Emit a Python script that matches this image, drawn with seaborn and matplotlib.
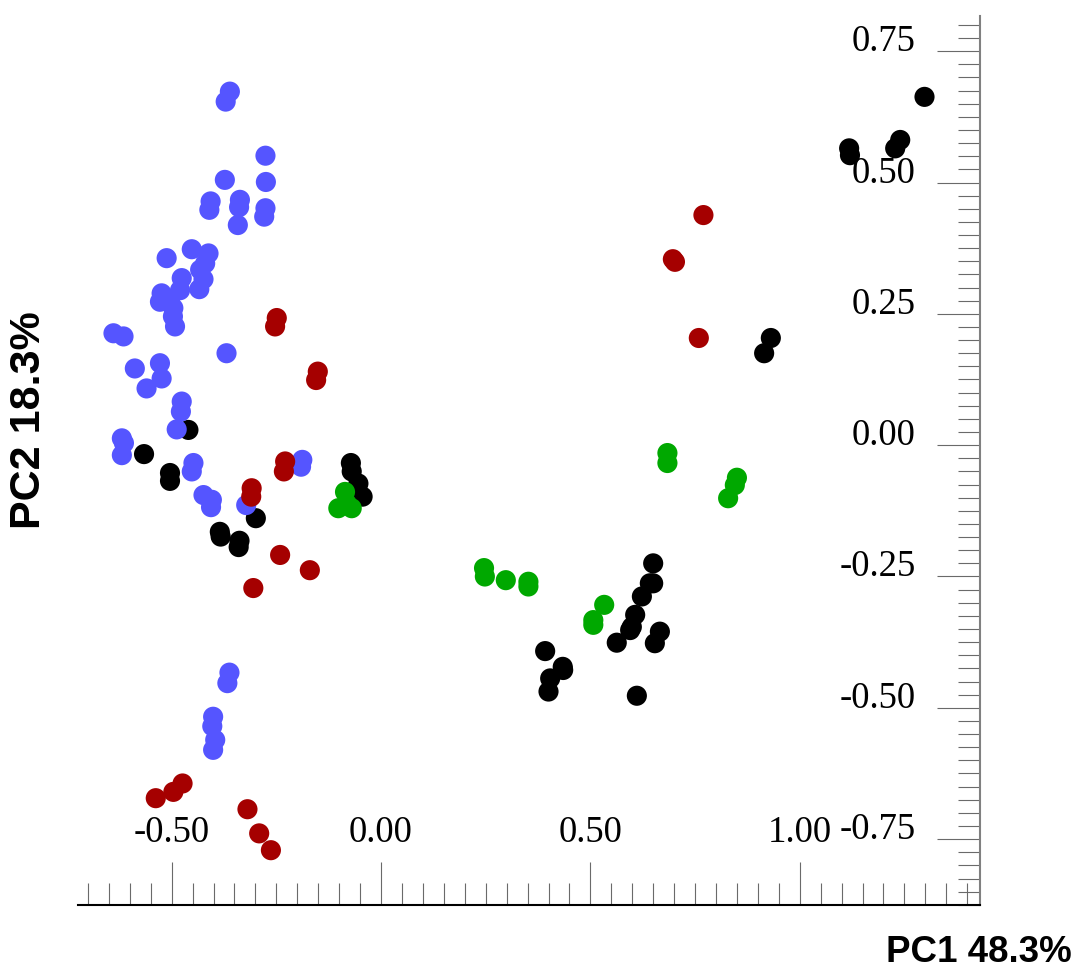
import matplotlib
matplotlib.use("Agg")
import matplotlib.pyplot as plt
from matplotlib.ticker import MultipleLocator
import pandas as pd
import seaborn as sns

# PCA scores, one pair of lists per group
blue_pc1 = [-0.361, -0.371, -0.276, -0.275, -0.373, -0.407, -0.410, -0.337, -0.339, -0.342,
            -0.276, -0.279, -0.512, -0.452, -0.412, -0.420, -0.432, -0.424, -0.434, -0.476,
            -0.480, -0.524, -0.528, -0.504, -0.496, -0.497, -0.492, -0.639, -0.615, -0.369,
            -0.588, -0.528, -0.524, -0.560, -0.476, -0.478, -0.488, -0.619, -0.614, -0.619,
            -0.448, -0.452, -0.424, -0.404, -0.406, -0.322, -0.188, -0.191, -0.362, -0.367,
            -0.401, -0.403, -0.396, -0.401]
blue_pc2 = [0.673, 0.654, 0.551, 0.501, 0.505, 0.464, 0.448, 0.467, 0.453, 0.419,
            0.451, 0.435, 0.356, 0.373, 0.365, 0.346, 0.334, 0.316, 0.297, 0.318,
            0.295, 0.289, 0.273, 0.276, 0.261, 0.245, 0.226, 0.213, 0.207, 0.175,
            0.146, 0.156, 0.127, 0.108, 0.083, 0.064, 0.030, 0.013, 0.004, -0.019,
            -0.034, -0.050, -0.095, -0.104, -0.118, -0.114, -0.028, -0.041, -0.433, -0.453,
            -0.517, -0.535, -0.561, -0.580]

red_pc1 = [-0.249, -0.253, -0.151, -0.155, -0.229, -0.232, -0.309, -0.310, -0.241, -0.170,
           -0.305, -0.474, -0.496, -0.538, -0.319, -0.291, -0.263, 0.770, 0.697, 0.702, 0.759]
red_pc2 = [0.242, 0.226, 0.140, 0.124, -0.031, -0.050, -0.082, -0.098, -0.209, -0.238,
           -0.272, -0.644, -0.660, -0.672, -0.693, -0.739, -0.771, 0.438, 0.354, 0.349, 0.204]

green_pc1 = [-0.086, -0.102, -0.070, -0.082, 0.246, 0.248, 0.298, 0.352, 0.352, 0.533,
             0.507, 0.507, 0.684, 0.684, 0.850, 0.845, 0.829]
green_pc2 = [-0.089, -0.120, -0.120, -0.111, -0.234, -0.250, -0.257, -0.260, -0.269, -0.304,
             -0.333, -0.342, -0.015, -0.034, -0.062, -0.076, -0.101]

black_pc1 = [1.298, 1.240, 1.228, 1.118, 1.120, 0.931, 0.915, -0.460, -0.566, -0.504,
             -0.504, -0.299, -0.385, -0.383, -0.338, -0.340, -0.072, -0.070, -0.054, -0.044,
             0.650, 0.642, 0.650, 0.623, 0.607, 0.599, 0.595, 0.666, 0.654, 0.563,
             0.611, 0.392, 0.434, 0.435, 0.404, 0.400]
black_pc2 = [0.663, 0.581, 0.565, 0.565, 0.552, 0.204, 0.175, 0.029, -0.017, -0.053,
             -0.068, -0.139, -0.165, -0.174, -0.182, -0.194, -0.034, -0.050, -0.073, -0.098,
             -0.225, -0.263, -0.263, -0.288, -0.323, -0.346, -0.352, -0.355, -0.377, -0.376,
             -0.477, -0.392, -0.422, -0.428, -0.444, -0.469]

x_ticks = [-0.5, 0.0, 0.5, 1.0]
x_labels = ["-0.50", "0.00", "0.50", "1.00"]
y_ticks = [-0.75, -0.5, -0.25, 0.0, 0.25, 0.5, 0.75]
y_labels = ["-0.75", "-0.50", "-0.25", "0.00", "0.25", "0.50", "0.75"]

palette = {"black": "#000000", "blue": "#5555ff", "red": "#a50000", "green": "#00a800"}

df = pd.concat([
    pd.DataFrame({"pc1": black_pc1, "pc2": black_pc2, "group": "black"}),
    pd.DataFrame({"pc1": blue_pc1, "pc2": blue_pc2, "group": "blue"}),
    pd.DataFrame({"pc1": red_pc1, "pc2": red_pc2, "group": "red"}),
    pd.DataFrame({"pc1": green_pc1, "pc2": green_pc2, "group": "green"}),
], ignore_index=True)

sns.set_theme(style="white")
plt.rcParams["axes.unicode_minus"] = False

fig = plt.figure(figsize=(10.76, 9.68), dpi=100)
ax = fig.add_axes([0.0725, 0.0651, 0.8383, 0.9184])

sns.scatterplot(data=df, x="pc1", y="pc2", hue="group", palette=palette,
                s=210, linewidth=0, legend=False, ax=ax)

ax.set_xlim(-0.7237, 1.4306)
ax.set_ylim(-0.8753, 0.817)
ax.set_axisbelow(True)

for side in ["top", "left"]:
    ax.spines[side].set_visible(False)
ax.spines["bottom"].set_color("black")
ax.spines["bottom"].set_linewidth(1.5)
ax.spines["right"].set_color("#808080")
ax.spines["right"].set_linewidth(1.5)

ax.yaxis.tick_right()
ax.set_xticks(x_ticks, labels=x_labels)
ax.set_yticks(y_ticks, labels=y_labels)
ax.xaxis.set_minor_locator(MultipleLocator(0.05))
ax.yaxis.set_minor_locator(MultipleLocator(0.025))

ax.tick_params(axis="x", which="both", bottom=True, top=False)
ax.tick_params(axis="y", which="both", left=False, right=True)
ax.tick_params(which="both", direction="in", color="#6a6a6a", width=0.8)
ax.tick_params(which="major", length=31, labelsize=26.5,
               labelfontfamily="Liberation Serif", labelcolor="black")
ax.tick_params(which="minor", length=15.5)
ax.tick_params(axis="x", which="major", pad=-45.4)
ax.tick_params(axis="y", which="major", pad=-46.5)
for lbl in ax.get_xticklabels():
    lbl.set_va("baseline")
for lbl in ax.get_yticklabels():
    lbl.set_ha("right")
    lbl.set_va("baseline")

ax.set_xlabel("PC1 48.3%", fontsize=26.5, fontweight="bold",
              family="Liberation Sans", color="black")
ax.xaxis.label.set_ha("right")
ax.xaxis.label.set_va("baseline")
ax.xaxis.set_label_coords(1.102, -0.064)

ax.set_ylabel("PC2 18.3%", fontsize=31, fontweight="bold",
              family="Liberation Sans", color="black")
ax.yaxis.set_label_coords(-0.0543, 0.5456)
ax.yaxis.label.set_ha("center")
ax.yaxis.label.set_va("center")

fig.savefig("out.png", dpi=100)
